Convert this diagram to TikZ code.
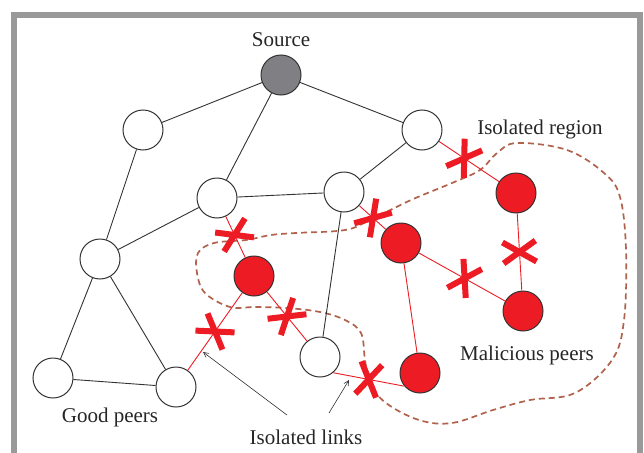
\documentclass[tikz,border=0pt]{standalone}
\usepackage{fontspec}
\setmainfont{Liberation Serif}
\usetikzlibrary{shapes.misc,arrows.meta,calc}
\definecolor{nodegray}{HTML}{808084}
\definecolor{badred}{HTML}{ED1C24}
\definecolor{regionbrown}{HTML}{B0624C}
\definecolor{framegray}{HTML}{999999}
\definecolor{edgegray}{HTML}{333333}
\begin{document}
\begin{tikzpicture}[x=1pt,y=-1pt,
  peer/.style={circle,draw=edgegray,line width=1pt,minimum size=40pt,inner sep=0pt,fill=white},
  srcpeer/.style={peer,fill=nodegray},
  badpeer/.style={peer,fill=badred},
  goodlink/.style={draw=edgegray,line width=0.9pt},
  badlink/.style={draw=badred,line width=0.9pt},
  cut/.style={sloped,cross out,draw=badred,line width=6pt,minimum width=15pt,minimum height=27pt,inner sep=0pt},
  lbl/.style={font=\fontsize{21}{24}\selectfont,text=black!85,inner sep=0pt},
  pointer/.style={draw=edgegray,line width=0.6pt,-{Straight Barb[length=5pt,width=5pt]}}
]
\useasboundingbox (0,0) rectangle (644,452);
\fill[white] (0,0) rectangle (644,452);
% frame
\draw[framegray,line width=6pt] (14,460) -- (14,15) -- (640,15) -- (640,460);

% nodes
\node[srcpeer] (S) at (281,75) {};
\node[peer] (A) at (143,130) {};
\node[peer] (B) at (422,130) {};
\node[peer] (C) at (217,198) {};
\node[peer] (D) at (344,192) {};
\node[peer] (E) at (100,259) {};
\node[badpeer] (F) at (254,276) {};
\node[badpeer] (G) at (401,243) {};
\node[badpeer] (H) at (516,193) {};
\node[badpeer] (I) at (523,311) {};
\node[peer] (J) at (53,378) {};
\node[peer] (K) at (176,387) {};
\node[peer] (L) at (320,357) {};
\node[badpeer] (M) at (420,373) {};

% region
\draw[regionbrown,line width=1.7pt,dash pattern=on 6pt off 4pt]
  plot[smooth cycle,tension=0.6] coordinates {
  (517,143) (567,150) (604,173) (620,197) (626,250) (624,320) (612,360)
  (575,393) (530,400) (493,410) (452,423) (419,420) (386,403) (370,383)
  (365,360) (361,333) (345,320) (320,312) (287,308) (255,307) (230,307)
  (205,293) (197,273) (198,253) (214,243) (246,240) (271,235) (296,233)
  (345,230) (370,220) (411,200) (452,183) (480,170) (497,153)};

% good links
\path[goodlink] (S) -- (A);
\path[goodlink] (S) -- (C);
\path[goodlink] (S) -- (B);
\path[goodlink] (A) -- (E);
\path[goodlink] (B) -- (D);
\path[goodlink] (C) -- (D);
\path[goodlink] (C) -- (E);
\path[goodlink] (E) -- (J);
\path[goodlink] (E) -- (K);
\path[goodlink] (J) -- (K);
\path[goodlink] (D) -- (L);

% bad links
\path[badlink] (B) -- (H) node[cut,pos=0.42] {};
\path[badlink] (D) -- (G) node[cut,pos=0.52] {};
\path[badlink] (C) -- (F) node[cut,pos=0.45] {};
\path[badlink] (F) -- (K) node[cut,pos=0.5] {};
\path[badlink] (F) -- (L) node[cut,pos=0.5] {};
\path[badlink] (G) -- (I) node[cut,pos=0.53] {};
\path[badlink] (H) -- (I) node[cut,pos=0.5] {};
\path[badlink] (G) -- (M);
\path[badlink] (L.-50) -- (M.-140) node[cut,pos=0.5] {};

% labels
\node[lbl] (tS) at (281,40) {Source};
\node[lbl] (tR) at (540,129) {Isolated region};
\node[lbl] (tM) at (527,355) {Malicious peers};
\node[lbl] (tG) at (110,417) {Good peers};
\node[lbl] (tL) at (306,437) {Isolated links};

% pointers
\coordinate (p1) at (287,415);
\coordinate (p2) at (329,413);
\coordinate (h1) at (203,352);
\coordinate (h2) at (349,380);
\draw[pointer] (p1) -- (h1);
\draw[pointer] (p2) -- (h2);
\end{tikzpicture}
\end{document}
